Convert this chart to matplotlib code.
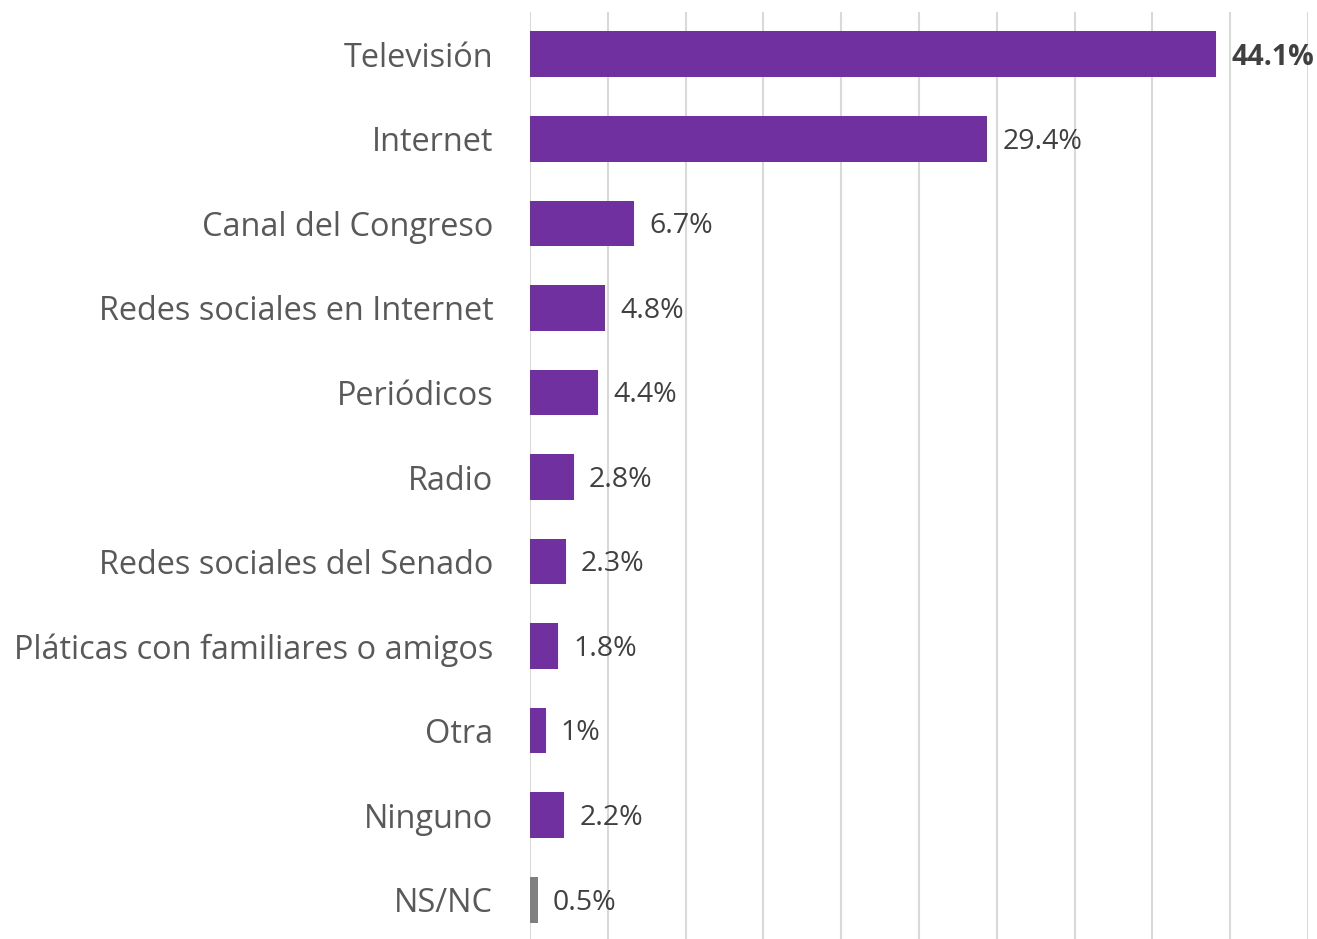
import matplotlib.pyplot as plt

# data
categories = ['Televisión', 'Internet', 'Canal del Congreso', 'Redes sociales en Internet',
              'Periódicos', 'Radio', 'Redes sociales del Senado',
              'Pláticas con familiares o amigos', 'Otra', 'Ninguno', 'NS/NC']
values = [44.1, 29.4, 6.7, 4.8, 4.4, 2.8, 2.3, 1.8, 1.0, 2.2, 0.5]
value_labels = ['44.1%', '29.4%', '6.7%', '4.8%', '4.4%', '2.8%', '2.3%', '1.8%', '1%', '2.2%', '0.5%']

plt.rcParams['font.family'] = ['Open Sans', 'DejaVu Sans']

purple = '#7030A0'
grey = '#808080'
colors = [purple] * (len(values) - 1) + [grey]

fig = plt.figure(figsize=(13.17, 9.39), dpi=100)
ax = fig.add_axes([530 / 1317, -3 / 939, 778 / 1317, 930 / 939])

y = list(range(len(categories)))
ax.barh(y, values, height=0.54, color=colors, zorder=3)

ax.set_xlim(0, 50)
ax.set_ylim(len(categories) - 0.5, -0.5)
ax.set_xticks(range(0, 51, 5))
ax.xaxis.grid(True, color='#D9D9D9', linewidth=1.5, zorder=0)
ax.tick_params(axis='x', bottom=False, labelbottom=False)
ax.tick_params(axis='y', left=False, pad=23, labelsize=23.4, labelcolor='#595959')
ax.set_yticks(y)
ax.set_yticklabels(categories)
for s in ax.spines.values():
    s.set_visible(False)

for i, (v, lab) in enumerate(zip(values, value_labels)):
    ax.annotate(lab, (v, i), xytext=(11, -2), textcoords='offset points',
                va='center', ha='left', fontsize=20.5, color='#404040',
                fontweight='bold' if i == 0 else 'normal')

fig.savefig('out.png', dpi=100)
